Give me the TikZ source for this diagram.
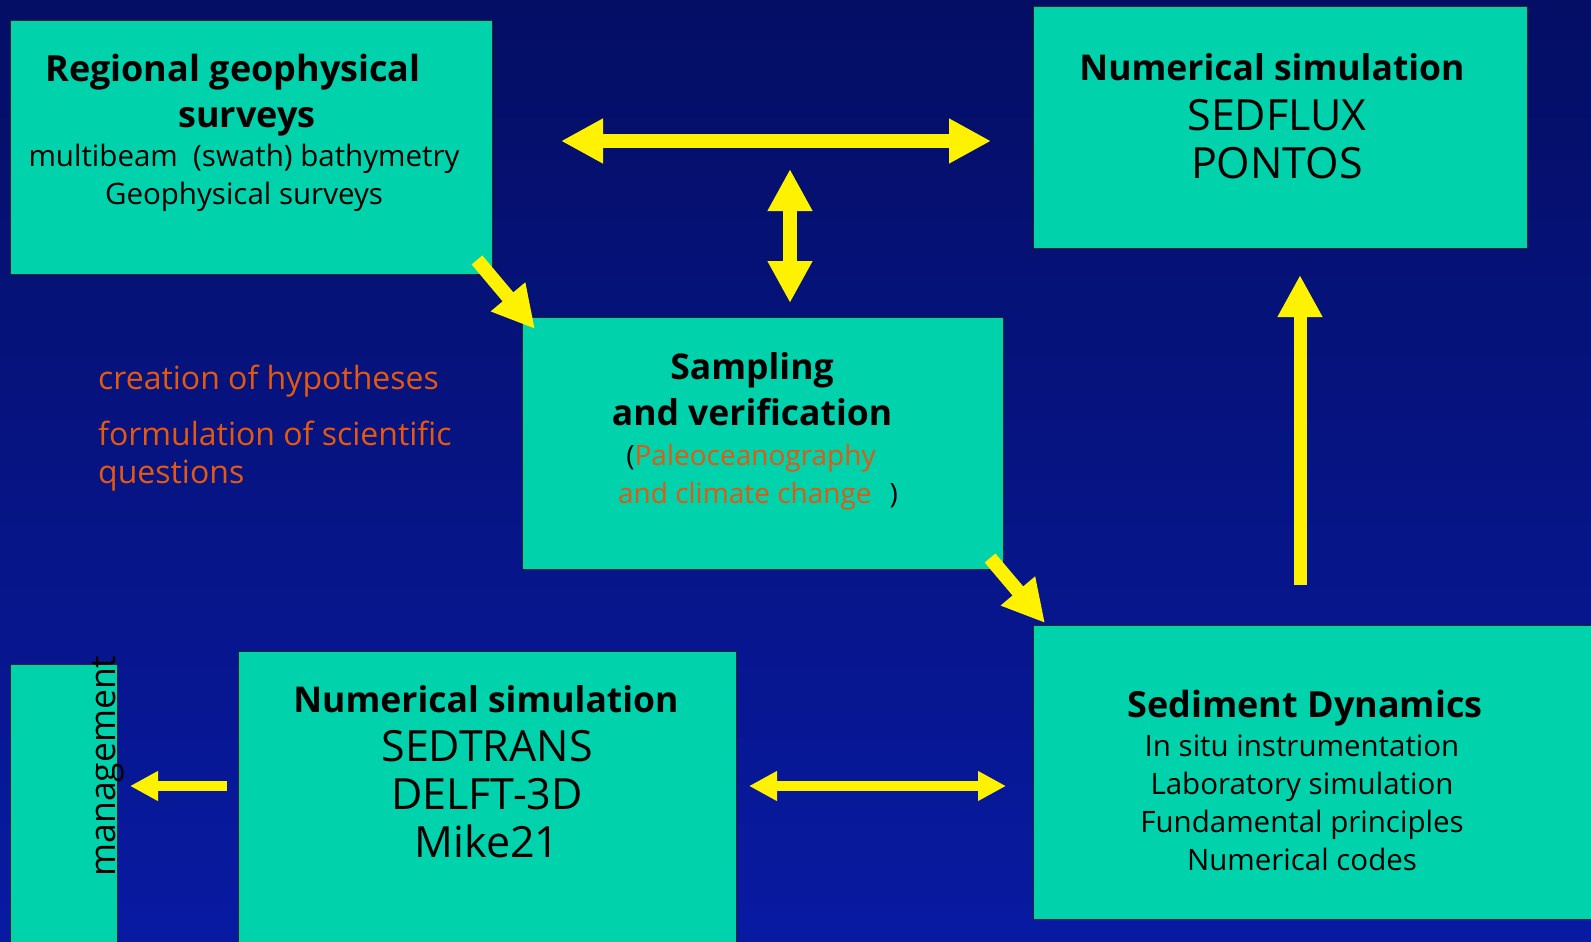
\documentclass[tikz,border=0pt]{standalone}
\usepackage{fontspec}
\setmainfont{Open Sans}
\usetikzlibrary{arrows.meta}
\definecolor{panelteal}{RGB}{0,210,172}
\definecolor{bgtop}{RGB}{4,14,100}
\definecolor{bgbot}{RGB}{8,26,162}
\definecolor{hypo}{RGB}{228,88,16}
\tikzset{
  bigtip/.tip={Triangle[length=42pt,width=42pt]},
  smalltip/.tip={Triangle[length=28pt,width=28pt]},
}
\begin{document}
\begin{tikzpicture}[x=1pt,y=-1pt,inner sep=0pt,
  panel/.style={draw=black!85,line width=0.8pt,fill=panelteal,anchor=north west},
  head/.style={font=\fontsize{35.5}{46}\selectfont\bfseries,align=center,anchor=base},
  body/.style={font=\fontsize{29.5}{38}\selectfont,align=center,anchor=base},
  code/.style={font=\fontsize{43}{48}\selectfont,align=center,anchor=base},
  fat/.style={yellow,line width=14pt},
  thin/.style={yellow,line width=10pt}]
\clip (0,0) rectangle (1591,942);
\shade[top color=bgtop,bottom color=bgbot] (0,0) rectangle (1591,942);
% boxes
\node[panel,minimum width=482,minimum height=254] (regional) at (10,20) {};
\node[panel,minimum width=494,minimum height=242] (numtop) at (1033,6) {};
\node[panel,minimum width=481,minimum height=252] (sampling) at (522,317) {};
\node[panel,minimum width=570,minimum height=294] (sediment) at (1033,625) {};
\node[panel,minimum width=498,minimum height=300] (numbot) at (238,651) {};
\node[panel,minimum width=107,minimum height=290] (manage) at (10,664) {};
% texts (anchored at the baseline of their last line)
\node[head,font=\fontsize{36}{46}\selectfont\bfseries] (regT) at (233,127) {Regional geophysical\\\hspace*{28pt}surveys};
\node[body] (regB) at (244,204) {multibeam\ \ (swath) bathymetry\\Geophysical surveys};
\node[head] (numtopT) at (1272,81) {Numerical simulation};
\node[code] (numtopB) at (1277,178) {SEDFLUX\\PONTOS};
\node[head] (samplingT) at (752,425) {Sampling\\and verification};
\node[body,font=\fontsize{28}{38}\selectfont] (samplingB) at (758,503)
  {\hspace*{-14pt}(\textcolor{hypo}{Paleoceanography}\\\textcolor{hypo}{and climate change}\hspace{18pt})};
\node[body,font=\fontsize{32}{38}\selectfont,text=hypo,align=left,anchor=base west] (hypoA) at (98,389) {creation of hypotheses};
\node[body,font=\fontsize{32}{38}\selectfont,text=hypo,align=left,anchor=base west] (hypoB) at (98,483) {formulation of scientific\\questions};
\node[head] (numbotT) at (486,712) {Numerical simulation};
\node[code] (numbotB) at (487,857) {SEDTRANS\\DELFT-3D\\Mike21};
\node[head,font=\fontsize{36}{46}\selectfont\bfseries] (sedT) at (1305,717) {Sediment Dynamics};
\node[body,font=\fontsize{29.5}{37.7}\selectfont] (sedB) at (1302,870) {In situ instrumentation\\Laboratory simulation\\Fundamental principles\\Numerical codes};
\node[code,rotate=90,font=\fontsize{35.5}{40}\selectfont,anchor=center] (manT) at (108,766) {management};
% arrows
\coordinate (a1) at (561,141); \coordinate (a2) at (991,141);
\coordinate (b1) at (790,169); \coordinate (b2) at (790,303);
\coordinate (c1) at (477,260); \coordinate (c2) at (535,329);
\coordinate (d1) at (990,558); \coordinate (d2) at (1045,623);
\coordinate (e1) at (1300,585); \coordinate (e2) at (1300,275);
\coordinate (f1) at (749,786); \coordinate (f2) at (1006,786);
\coordinate (g1) at (227,786); \coordinate (g2) at (130,786);
\draw[fat,{bigtip}-{bigtip}] (a1) -- (a2);
\draw[fat,{bigtip}-{bigtip}] (b1) -- (b2);
\draw[fat,-{bigtip}] (c1) -- (c2);
\draw[fat,-{bigtip}] (d1) -- (d2);
\draw[yellow,line width=13pt,-{bigtip}] (e1) -- (e2);
\draw[thin,{smalltip}-{smalltip}] (f1) -- (f2);
\draw[thin,-{smalltip}] (g1) -- (g2);
\end{tikzpicture}
\end{document}
